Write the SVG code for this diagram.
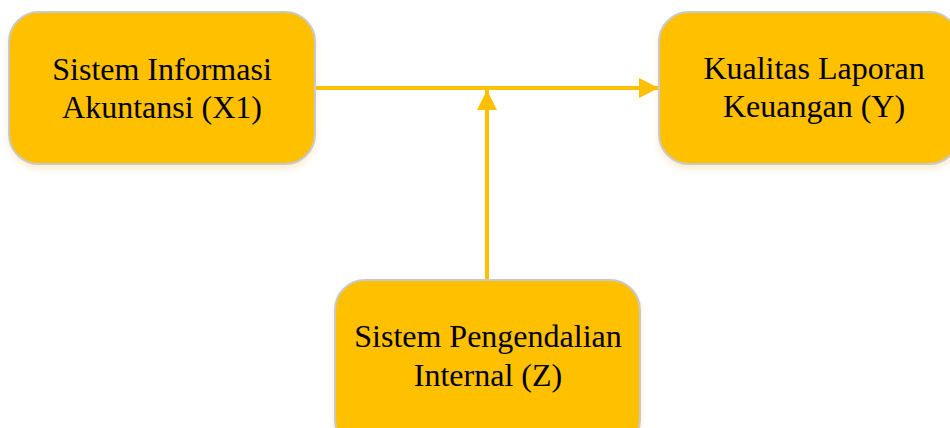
<svg xmlns="http://www.w3.org/2000/svg" width="950" height="428" viewBox="0 0 950 428">
<defs>
<filter id="sh" x="-10%" y="-10%" width="120%" height="130%">
<feGaussianBlur in="SourceAlpha" stdDeviation="3"/>
<feOffset dx="0" dy="4" result="b"/>
<feFlood flood-color="#f0c060" flood-opacity="0.3"/>
<feComposite in2="b" operator="in"/>
<feMerge><feMergeNode/><feMergeNode in="SourceGraphic"/></feMerge>
</filter>
<marker id="ah" markerWidth="20" markerHeight="20" viewBox="0 0 20 20" refX="20" refY="10" orient="auto" markerUnits="userSpaceOnUse">
<path d="M0,0 L20,10 L0,20 Z" fill="#FFC000"/>
</marker>
</defs>
<style>
.box{fill:#FFC000;stroke:#c9c9c9;stroke-width:2;filter:url(#sh)}
.t{font-family:"Liberation Serif","Times New Roman",serif;font-size:32px;fill:#000;text-anchor:middle}
.c{stroke:#FFC000;stroke-width:4;fill:none}
</style>
<rect width="950" height="428" fill="#fff"/>
<g id="connectors">
<line class="c" x1="315" y1="88" x2="659" y2="88" marker-end="url(#ah)"/>
<line class="c" x1="487" y1="280" x2="487" y2="90" marker-end="url(#ah)"/>
</g>
<g id="x1">
<rect class="box" x="9" y="12" width="306" height="152" rx="30"/>
<text class="t" x="162" y="80">Sistem Informasi</text>
<text class="t" x="162" y="118">Akuntansi (X1)</text>
</g>
<g id="y">
<rect class="box" x="659" y="12" width="300" height="152" rx="30"/>
<text class="t" x="814" y="79">Kualitas Laporan</text>
<text class="t" x="814" y="117">Keuangan (Y)</text>
</g>
<g id="z">
<rect class="box" x="335" y="280" width="305" height="170" rx="30"/>
<text class="t" x="488" y="347">Sistem Pengendalian</text>
<text class="t" x="488" y="386">Internal (Z)</text>
</g>
</svg>
